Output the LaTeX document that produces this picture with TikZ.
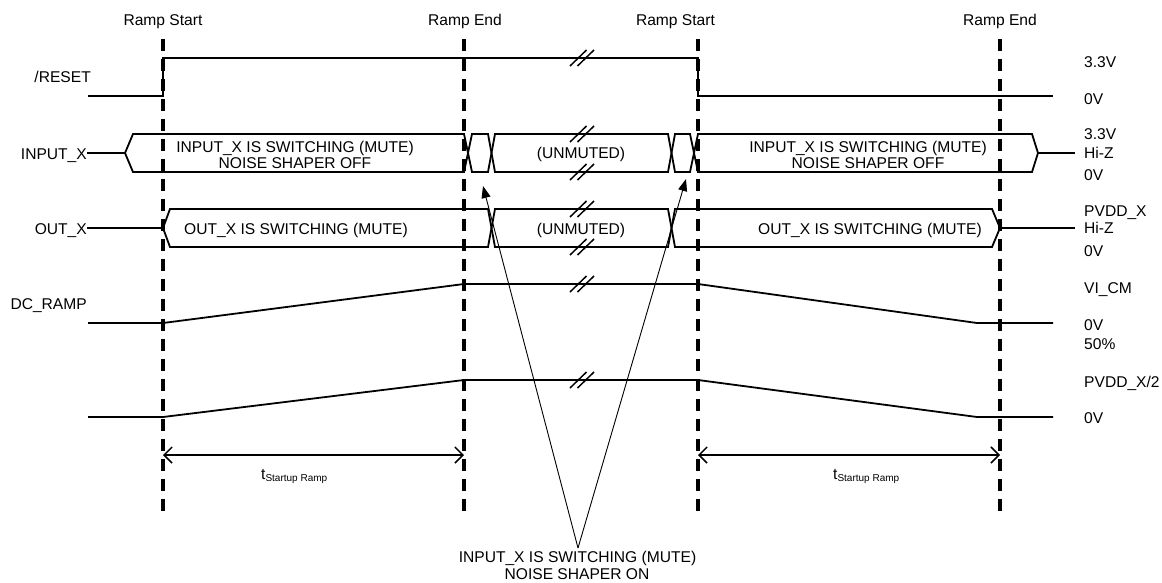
\documentclass[tikz,border=0pt]{standalone}
\usepackage{fontspec}
\setmainfont{Liberation Sans}
\usetikzlibrary{arrows.meta}
\newcommand\hexbus[6]{%
  \draw[bus] (#1,{(#5+#6)/2}) -- (#2,#5) -- (#3,#5) -- (#4,{(#5+#6)/2}) -- (#3,#6) -- (#2,#6) -- cycle;}
\newcommand\breakmark[2]{%
  \begin{scope}[shift={(#1,#2)}]
    \draw[brkline] (-12,8) -- (4.5,-8);
    \draw[brkline] (-4.5,8) -- (12,-8);
  \end{scope}}
\begin{document}
\begin{tikzpicture}[x=1pt,y=-1pt,
  sig/.style={line width=1.8pt, line join=miter},
  bus/.style={line width=1.8pt, line join=miter},
  brkline/.style={line width=1.5pt},
  vguide/.style={line width=3.2pt, dash pattern=on 12pt off 8pt},
  lbl/.style={font=\fontsize{15.6}{17}\selectfont, inner sep=0pt},
  dimarrow/.style={line width=1.5pt, {Straight Barb[length=8pt,width=16pt]}-{Straight Barb[length=8pt,width=16pt]}},
  callout/.style={line width=0.9pt, -{Triangle[length=12pt,width=9pt]}}]
\useasboundingbox (0,0) rectangle (1162,582);

% vertical dashed guides
\foreach \x in {163,464,698,1000} \draw[vguide] (\x,39) -- (\x,512);

% top labels
\node[lbl, anchor=base] (rs1) at (163,25.5) {Ramp Start};
\node[lbl, anchor=base] (re1) at (465,25.5) {Ramp End};
\node[lbl, anchor=base] (rs2) at (675.5,25.5) {Ramp Start};
\node[lbl, anchor=base] (re2) at (1000,25.5) {Ramp End};

% left labels
\node[lbl, anchor=base east] (nreset) at (91,82) {/RESET};
\node[lbl, anchor=base east] (ninput) at (87,159) {INPUT\_X};
\node[lbl, anchor=base east] (nout) at (87,234) {OUT\_X};
\node[lbl, anchor=base east] (ndc) at (87,309) {DC\_RAMP};

% right labels
\node[lbl, anchor=base west] (r1) at (1084,67) {3.3V};
\node[lbl, anchor=base west] (r2) at (1084,104) {0V};
\node[lbl, anchor=base west] (r3) at (1084,139) {3.3V};
\node[lbl, anchor=base west] (r4) at (1084,158) {Hi-Z};
\node[lbl, anchor=base west] (r5) at (1084,180) {0V};
\node[lbl, anchor=base west] (r6) at (1084,216) {PVDD\_X};
\node[lbl, anchor=base west] (r7) at (1084,233) {Hi-Z};
\node[lbl, anchor=base west] (r8) at (1084,256) {0V};
\node[lbl, anchor=base west] (r9) at (1084,293) {VI\_CM};
\node[lbl, anchor=base west] (r10) at (1084,330) {0V};
\node[lbl, anchor=base west] (r11) at (1084,349) {50\%};
\node[lbl, anchor=base west] (r12) at (1084,387) {PVDD\_X/2};
\node[lbl, anchor=base west] (r13) at (1084,423) {0V};

% /RESET
\draw[sig] (88,96) -- (163,96) -- (163,58) -- (698,58) -- (698,96) -- (1053,96);
\breakmark{582}{58}

% INPUT_X
\draw[sig] (87,153) -- (125,153);
\hexbus{125}{133}{464}{468}{134}{172}
\hexbus{468}{472}{488}{491.5}{134}{172}
\hexbus{491.5}{495}{668}{671.5}{134}{172}
\hexbus{671.5}{675}{690}{694}{134}{172}
\hexbus{694}{698}{1032}{1038}{134}{172}
\draw[sig] (1038,153) -- (1075,153);
\breakmark{582}{134}
\breakmark{582}{172}
\node[lbl, anchor=base] (ib1a) at (295,152) {INPUT\_X IS SWITCHING (MUTE)};
\node[lbl, anchor=base] (ib1b) at (295,168) {NOISE SHAPER OFF};
\node[lbl, anchor=base] (ib2) at (581,158) {(UNMUTED)};
\node[lbl, anchor=base] (ib3a) at (868,152) {INPUT\_X IS SWITCHING (MUTE)};
\node[lbl, anchor=base] (ib3b) at (868,168) {NOISE SHAPER OFF};

% OUT_X
\draw[sig] (87,228) -- (163,228);
\hexbus{163}{170}{488}{491.5}{209}{247}
\hexbus{491.5}{495}{668}{671.5}{209}{247}
\hexbus{671.5}{675}{992}{1000}{209}{247}
\draw[sig] (1000,228) -- (1075,228);
\breakmark{582}{209}
\breakmark{582}{247}
\node[lbl, anchor=base] (ob1) at (296,234) {OUT\_X IS SWITCHING (MUTE)};
\node[lbl, anchor=base] (ob2) at (581,234) {(UNMUTED)};
\node[lbl, anchor=base] (ob3) at (870,234) {OUT\_X IS SWITCHING (MUTE)};

% DC_RAMP
\draw[sig] (88,323) -- (163,323) -- (464,284) -- (698,284) -- (977,323) -- (1053,323);
\breakmark{582}{284}

% PVDD_X/2 ramp
\draw[sig] (88,417) -- (163,417) -- (464,380) -- (698,380) -- (977,417) -- (1053,417);
\breakmark{582}{380}

% startup ramp dimensions
\coordinate (d1a) at (163,455);
\coordinate (d1b) at (464,455);
\coordinate (d2a) at (698,455);
\coordinate (d2b) at (1000,455);
\draw[dimarrow] (d1a) -- (d1b);
\draw[dimarrow] (d2a) -- (d2b);
\node[lbl, anchor=base west] (t1) at (261,479) {t\raisebox{-2.5pt}{\fontsize{10}{11}\selectfont Startup Ramp}};
\node[lbl, anchor=base west] (t2) at (833,479) {t\raisebox{-2.5pt}{\fontsize{10}{11}\selectfont Startup Ramp}};

% callout
\node[lbl, anchor=base] (nb1) at (577.5,562) {INPUT\_X IS SWITCHING (MUTE)};
\node[lbl, anchor=base] (nb2) at (577,579) {NOISE SHAPER ON};
\coordinate (apex) at (578,548);
\coordinate (tipL) at (483,186);
\coordinate (tipR) at (686,179);
\draw[callout] (apex) -- (tipL);
\draw[callout] (apex) -- (tipR);
\end{tikzpicture}
\end{document}
